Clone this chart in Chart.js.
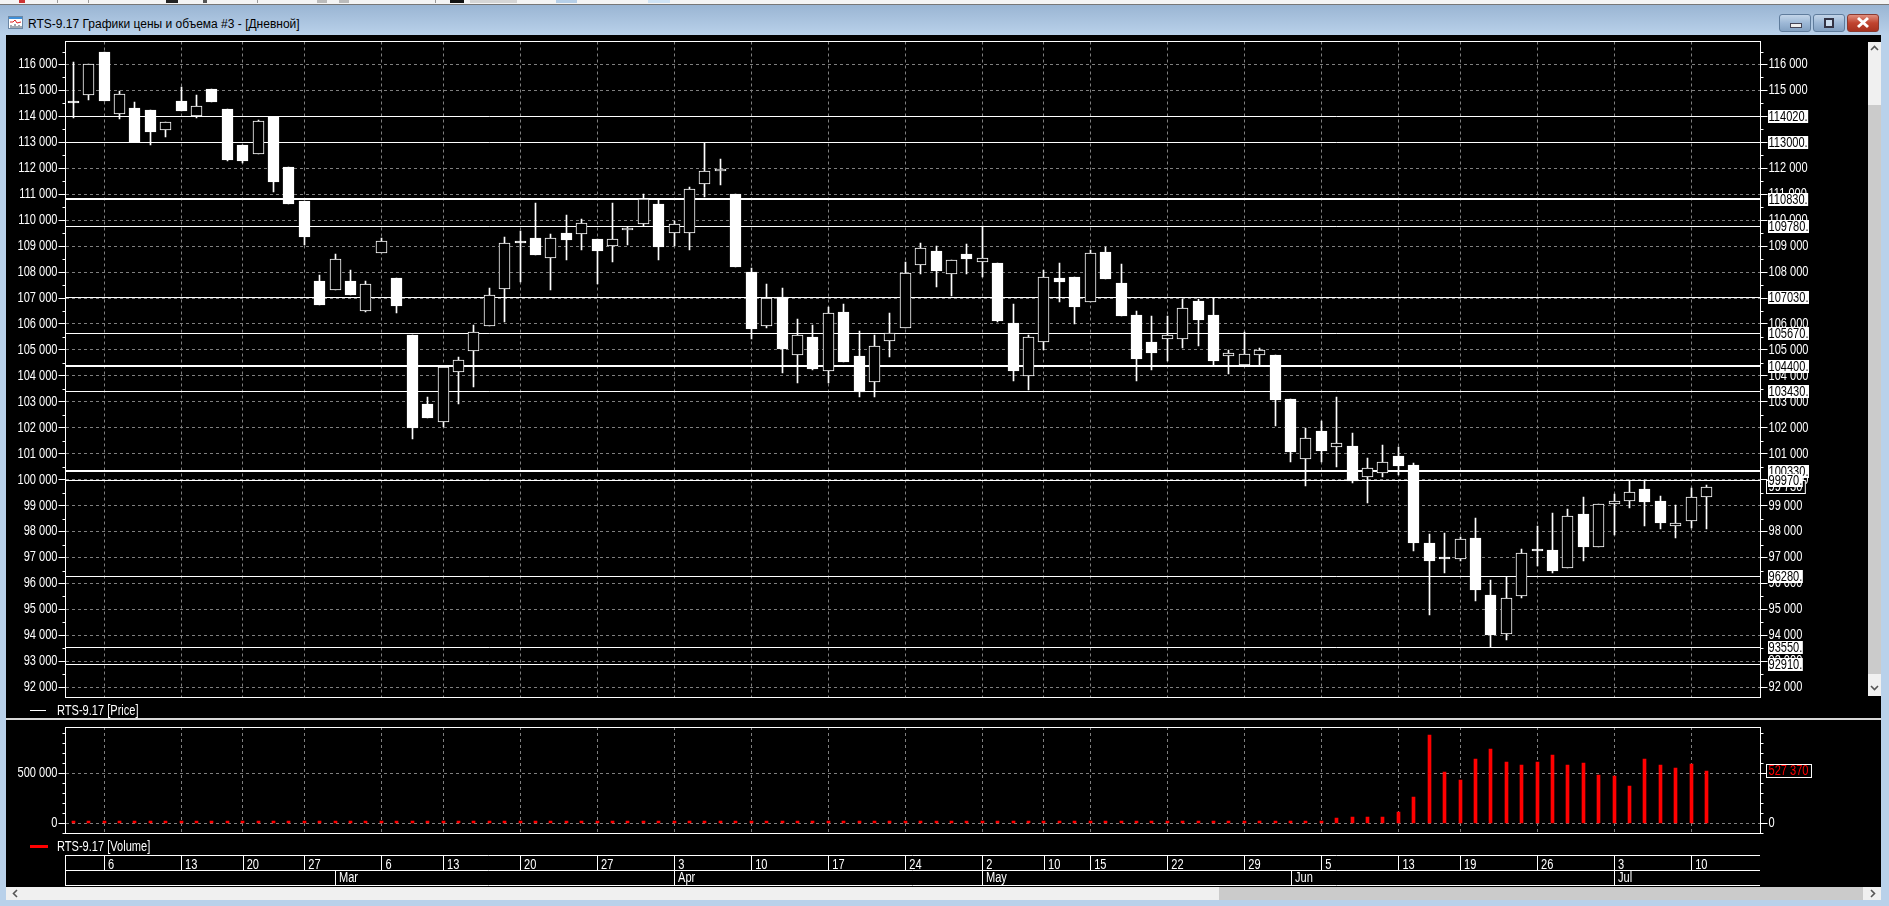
<!DOCTYPE html>
<html lang="ru">
<head>
<meta charset="UTF-8">
<title>RTS-9.17 Графики цены и объема #3 - [Дневной]</title>
<script src="https://cdn.jsdelivr.net/npm/chart.js"></script>
<style>
    html, body { margin: 0; padding: 0; width: 1889px; height: 906px; overflow: hidden; background: #b9d1ea; }
    div, canvas, svg { position: absolute; }
    #toolbar { left: 0; top: 0; width: 1889px; height: 4px; background: #f4f4f4; border-bottom: 1px solid #777; }
    #toolbar div { top: 0; height: 3px; }
    #titlebar { left: 0; top: 5px; width: 1889px; height: 30px; background: linear-gradient(#9ab5d3, #b9d1ea); }
    #title { left: 28px; top: 16px; font: 12px "Liberation Sans", sans-serif; line-height: 16px; color: #000; white-space: nowrap; }
    #icon { left: 8px; top: 16px; }
    .winbtn { top: 14px; height: 18px; border: 1px solid #5f7c9c; border-radius: 3px; box-sizing: border-box; background: linear-gradient(#c3d5e9, #9db8d6 50%, #83a1c2); }
    #screen { left: 6px; top: 35px; width: 1875px; height: 852px; background: #000; }
    #sep { left: 6px; top: 718px; width: 1875px; height: 2px; background: #d9d9d9; }
    #vbar { left: 1868px; top: 42px; width: 13px; height: 654px; background: #cbcbcb; }
    #vbar .lite { left: 0; top: 0; width: 13px; height: 63px; background: #f0f0f0; }
    #vbar .end { left: 0; bottom: 0; width: 13px; height: 22px; background: #f0f0f0; }
    #hbar { left: 6px; top: 887px; width: 1875px; height: 13px; background: #f0f0f0; }
    #hbar .thumb { left: 1213px; top: 0; width: 644px; height: 13px; background: #cbcbcb; }
    .legend { left: 57px; font: 14px "Liberation Sans", sans-serif; line-height: 16px; color: #fff; white-space: nowrap; transform: scaleX(0.79); transform-origin: left center; }
    .legendline { left: 30px; }
    #price { left: 0; top: 35px; }
    #volume { left: 0; top: 720px; }
</style>
</head>
<body>
<div id="toolbar">
    <div style="left:19px;width:6px;background:#c33"></div>
    <div style="left:57px;width:1px;background:#999"></div>
    <div style="left:88px;width:1px;background:#999"></div>
    <div style="left:166px;width:12px;background:#222"></div>
    <div style="left:203px;width:4px;background:#555"></div>
    <div style="left:257px;width:1px;background:#999"></div>
    <div style="left:317px;width:10px;background:#bbb"></div>
    <div style="left:339px;width:10px;background:#bbb"></div>
    <div style="left:435px;width:1px;background:#999"></div>
    <div style="left:450px;width:14px;background:#111"></div>
    <div style="left:470px;width:47px;background:#d5d5d5"></div>
    <div style="left:556px;width:21px;background:#b6cfe8"></div>
    <div style="left:648px;width:22px;background:#cfe3f5"></div>
</div>
<div id="titlebar"></div>
<svg id="icon" width="15" height="13">
    <rect x="0.5" y="0.5" width="14" height="12" fill="#fff" stroke="#6b87a5"/>
    <rect x="1" y="1" width="13" height="2" fill="#3f8fd8"/>
    <path d="M2 6 L5 6 L7 4 L9 7 L13 6" fill="none" stroke="#d22"/>
    <path d="M3 12 V9 M5 12 V10 M7 12 V8 M9 12 V10 M11 12 V9 M13 12 V10" stroke="#456"/>
</svg>
<div id="title">RTS-9.17 Графики цены и объема #3 - [Дневной]</div>
<div class="winbtn" style="left:1779px;width:32px"><div style="left:10px;top:8px;width:10px;height:3px;background:#eee;border:1px solid #445"></div></div>
<div class="winbtn" style="left:1813px;width:32px"><div style="left:10px;top:3px;width:6px;height:6px;border:2px solid #334;background:#cde"></div></div>
<div class="winbtn" style="left:1847px;width:32px;border-color:#8a3a30;background:linear-gradient(#e08f7e,#c0442f 50%,#a8321f)">
    <svg width="30" height="16" style="left:0;top:0"><path d="M10 3 L20 12 M20 3 L10 12" stroke="#fff" stroke-width="3"/></svg>
</div>
<div id="screen"></div>
<div id="sep"></div>
<div id="vbar">
    <div class="lite"><svg width="13" height="14"><path d="M3 8 L6.5 4.5 L10 8" fill="none" stroke="#555" stroke-width="1.6"/></svg></div>
    <div class="end"><svg width="13" height="22"><path d="M3 12 L6.5 15.5 L10 12" fill="none" stroke="#555" stroke-width="1.6"/></svg></div>
</div>
<div id="hbar">
    <div class="thumb"></div>
    <svg width="13" height="13" style="left:3px;top:0"><path d="M8 3 L4.5 6.5 L8 10" fill="none" stroke="#555" stroke-width="1.6"/></svg>
    <svg width="13" height="13" style="left:1860px;top:0"><path d="M5 3 L8.5 6.5 L5 10" fill="none" stroke="#555" stroke-width="1.6"/></svg>
</div>
<canvas id="price" width="1868" height="683"></canvas>
<canvas id="volume" width="1868" height="167"></canvas>
<div class="legendline" style="top:710px;width:16px;height:1px;background:#fff"></div>
<div class="legend" style="top:702px">RTS-9.17 [Price]</div>
<div class="legendline" style="top:845px;width:18px;height:3px;background:#f00"></div>
<div class="legend" style="top:838px">RTS-9.17 [Volume]</div>
<script>
    const dates = [
        '2017-02-02','2017-02-03','2017-02-06','2017-02-07','2017-02-08','2017-02-09','2017-02-10',
        '2017-02-13','2017-02-14','2017-02-15','2017-02-16','2017-02-20','2017-02-21','2017-02-22','2017-02-24',
        '2017-02-27','2017-02-28','2017-03-01','2017-03-02','2017-03-03','2017-03-06','2017-03-07','2017-03-09','2017-03-10',
        '2017-03-13','2017-03-14','2017-03-15','2017-03-16','2017-03-17','2017-03-20','2017-03-21','2017-03-22','2017-03-23','2017-03-24',
        '2017-03-27','2017-03-28','2017-03-29','2017-03-30','2017-03-31','2017-04-03','2017-04-04','2017-04-05','2017-04-06','2017-04-07',
        '2017-04-10','2017-04-11','2017-04-12','2017-04-13','2017-04-14','2017-04-17','2017-04-18','2017-04-19','2017-04-20','2017-04-21',
        '2017-04-24','2017-04-25','2017-04-26','2017-04-27','2017-04-28','2017-05-02','2017-05-03','2017-05-04','2017-05-05',
        '2017-05-10','2017-05-11','2017-05-12','2017-05-15','2017-05-16','2017-05-17','2017-05-18','2017-05-19',
        '2017-05-22','2017-05-23','2017-05-24','2017-05-25','2017-05-26','2017-05-29','2017-05-30','2017-05-31','2017-06-01','2017-06-02',
        '2017-06-05','2017-06-06','2017-06-07','2017-06-08','2017-06-09','2017-06-13','2017-06-14','2017-06-15','2017-06-16',
        '2017-06-19','2017-06-20','2017-06-21','2017-06-22','2017-06-23','2017-06-26','2017-06-27','2017-06-28','2017-06-29','2017-06-30',
        '2017-07-03','2017-07-04','2017-07-05','2017-07-06','2017-07-07','2017-07-10','2017-07-11','2017-07-12','2017-07-13','2017-07-14'
    ];
    const weekTicks = [
        '2017-02-06','2017-02-13','2017-02-20','2017-02-27','2017-03-06','2017-03-13','2017-03-20','2017-03-27',
        '2017-04-03','2017-04-10','2017-04-17','2017-04-24','2017-05-02','2017-05-10','2017-05-15','2017-05-22','2017-05-29',
        '2017-06-05','2017-06-13','2017-06-19','2017-06-26','2017-07-03','2017-07-10'
    ];
    const monthStarts = ['2017-03-01','2017-04-03','2017-05-02','2017-06-01','2017-07-03'];
    const monthNames = ['Mar','Apr','May','Jun','Jul'];

    const priceTicks = [
        116000,115000,114000,113000,112000,111000,110000,109000,108000,107000,106000,105000,104000,
        103000,102000,101000,100000,99000,98000,97000,96000,95000,94000,93000,92000
    ];
    const volumeTicks = [500000, 0];

    const opens = [
        114500,114830,116470,114100,114310,114230,113490,114590,114025,115040,114270,112900,112540,113990,112040,110730,
        107650,107310,107650,106490,108750,107770,105590,102900,102220,104140,104950,105910,107330,109130,109320,108560,
        109510,109450,109280,108990,109615,109870,110630,109490,109490,111385,111885,111010,108000,105910,107025,104795,
        105500,104180,106475,104770,103755,105335,105830,108255,108820,107910,108700,108370,108360,106045,103980,105290,
        107780,107820,106830,108780,107585,106355,105315,105440,105405,106895,106355,104750,104430,104790,104815,103120,
        100780,101885,101245,101310,100100,100255,100900,100550,97550,96950,96950,97745,95550,94065,95525,97245,
        97280,96600,98665,97410,99065,99180,99655,99165,98220,98410,99335
    ];
    const closes = [
        114500,116000,114590,114850,113000,113410,113770,114220,114385,114565,112335,112295,113810,111490,110640,109370,
        106750,108490,107100,107560,109190,106680,101975,102360,104350,104615,105690,107115,109115,109130,108670,109310,
        109240,109880,108830,109270,109690,110810,108950,109850,111190,111885,111990,108180,105795,107000,105025,105575,
        104255,106420,104525,103370,105155,105655,107960,108920,108060,108460,108510,108535,106125,104200,105495,107805,
        107625,106660,108730,107740,106315,104670,104890,105570,106610,106160,104585,104880,104840,104995,103080,101080,
        101605,101115,101410,99960,100450,100690,100525,97550,96860,96950,97730,95745,94010,95460,97190,97245,
        96475,98615,97395,99075,99180,99540,99130,98320,98345,99345,99730
    ];
    const highs = [
        116080,116000,116470,114975,114540,114230,113770,115115,114810,115040,114270,112900,113850,113990,112040,110730,
        107900,108690,108090,107650,109320,107770,105590,103200,104350,104730,105970,107400,109360,109590,110670,109475,
        110205,110050,109280,110670,109745,111000,110780,109975,111280,112990,112360,111010,108155,107550,107400,106205,
        105975,106665,106780,105745,105590,106435,108395,109125,109000,108460,109090,109770,108360,106780,105585,108090,
        108360,107820,108860,108985,108320,106510,106315,106290,106970,106970,107020,105005,105690,105085,104815,103120,
        101980,102270,103195,101810,100820,101320,101245,100640,97900,97935,97780,98510,96130,96255,97320,98205,
        98705,98860,99320,99075,99435,99975,99975,99360,99010,99665,99780
    ];
    const lows = [
        113925,114640,114590,113910,113000,112880,113220,114220,113950,114565,112295,112190,112540,111090,110640,109050,
        106730,107310,107100,106450,108750,106410,101550,102360,102030,102900,103560,105910,106090,107615,108670,107320,
        108450,108860,107550,108370,109025,109770,108450,109000,108870,110900,111360,108180,105435,105860,104130,103745,
        104220,103720,104525,103170,103205,104745,105830,107910,107430,107085,107935,107820,106060,103810,103450,105005,
        106830,106000,106830,107740,106315,103810,104235,104585,105085,105160,104430,104080,104430,104430,102080,100670,
        99745,100680,100475,99860,99100,100100,100170,97245,94780,96410,96860,95320,93550,93830,95435,96665,
        96400,96600,96860,97410,97885,98900,98205,98090,97745,98155,98090
    ];
    const volumes = [
        2000,2000,2000,2000,2000,2000,2000,2000,2000,2000,2000,2000,2000,2000,2000,2000,
        2000,2000,2000,2000,2000,2000,2000,2000,2000,2000,2000,2000,2000,2000,2000,2000,
        2000,2000,2000,2000,2000,2000,2000,2000,2000,2000,2000,2000,2000,2000,2000,2000,
        2000,2000,2000,2000,2000,2000,2000,2000,2000,2000,2000,2000,2000,2000,2000,2000,
        2000,2000,2000,2000,2000,2000,2000,2000,2000,2000,3000,3000,5000,10000,20000,20000,
        20000,27000,50000,60000,60000,60000,117000,260000,880000,510000,437000,640000,740000,617000,580000,610000,
        680000,580000,600000,480000,477000,377000,647000,580000,557000,597000,527370
    ];
    // horizontal levels drawn on the price panel
    const levels = [114020,113000,110830,109780,107030,105670,104400,103430,100330,99970,96280,93550,92910];
    const thickLevels = [110830,104400,100330];
    const lastPrice = 99730;
    const lastVolume = 527370;

    const FONT = '"Liberation Sans", sans-serif';
    const SQUEEZE = 0.79;
    const GRID = '#7f7f7f';

    function spaced(v) {
        return String(v).replace(/\B(?=(\d{3})+$)/g, ' ');
    }

    // no narrow bitmap font here, so squeeze all canvas text sideways
    const narrowTextPlugin = {
        id: 'narrowText',
        beforeInit(chart) {
            const ctx = chart.ctx;
            const fillText = ctx.fillText.bind(ctx);
            ctx.fillText = (text, x, y) => {
                ctx.save();
                ctx.translate(x, y);
                ctx.scale(SQUEEZE, 1);
                fillText(text, 0, 0);
                ctx.restore();
            };
        }
    };

    // the terminal draws on whole pixels, so snap the elements Chart.js has placed
    const snapPlugin = {
        id: 'snap',
        afterDatasetsUpdate(chart) {
            chart.data.datasets.forEach((ds, i) => {
                chart.getDatasetMeta(i).data.forEach(el => {
                    if (ds.type === 'line') {
                        el.y = Math.round(el.y) + (ds.borderWidth === 1 ? 0.5 : 0);
                    } else {
                        el.x = Math.floor(el.x) + 0.5;
                        el.y = Math.round(el.y);
                        el.base = Math.round(el.base);
                    }
                });
            });
        }
    };

    const framePlugin = {
        id: 'frame',
        afterDatasetsDraw(chart, args, opts) {
            const { ctx, chartArea: a } = chart;
            const y = chart.scales.y;
            ctx.save();
            ctx.strokeStyle = '#fff';
            ctx.lineWidth = 1;
            ctx.strokeRect(Math.floor(a.left) + 0.5, Math.floor(a.top) + 0.5,
                Math.floor(a.right) - Math.floor(a.left), Math.floor(a.bottom) - Math.floor(a.top));
            // short minor ticks on both sides
            ctx.beginPath();
            for (let v = Math.ceil(y.min / opts.minor) * opts.minor; v <= y.max; v += opts.minor) {
                if (v % opts.major === 0) continue;
                const py = Math.round(y.getPixelForValue(v)) + 0.5;
                ctx.moveTo(a.left - 3, py);
                ctx.lineTo(a.left, py);
                ctx.moveTo(a.right, py);
                ctx.lineTo(a.right + 3, py);
            }
            ctx.stroke();
            ctx.restore();
        }
    };

    function tagBox(ctx, text, x, cy, w, h, fill, stroke, color) {
        ctx.fillStyle = fill;
        ctx.fillRect(x, cy - h / 2, w, h);
        if (stroke) {
            ctx.strokeStyle = stroke;
            ctx.lineWidth = 1;
            ctx.strokeRect(x + 0.5, cy - h / 2 + 0.5, w - 1, h - 1);
        }
        ctx.fillStyle = color;
        ctx.textBaseline = 'middle';
        ctx.textAlign = 'left';
        ctx.fillText(text, x + (stroke ? 2.5 : 0.5), cy + 0.5);
    }

    const priceTagPlugin = {
        id: 'priceTags',
        afterDraw(chart) {
            const { ctx } = chart;
            const y = chart.scales.y;
            const x0 = Math.round(chart.chartArea.right) + 7;
            ctx.save();
            ctx.font = '14px ' + FONT;
            const lastY = Math.round(y.getPixelForValue(lastPrice));
            const lastText = spaced(lastPrice);
            tagBox(ctx, lastText, x0 - 2, lastY, ctx.measureText(lastText).width * SQUEEZE + 6, 14, '#000', '#fff', '#fff');
            levels.forEach(lv => {
                const text = lv + '.';
                tagBox(ctx, text, x0, Math.round(y.getPixelForValue(lv)) + 0.5, ctx.measureText(text).width * SQUEEZE + 1, 13, '#fff', null, '#000');
            });
            ctx.restore();
        }
    };

    const volumeTagPlugin = {
        id: 'volumeTag',
        afterDraw(chart) {
            const { ctx, chartArea: a } = chart;
            const y = chart.scales.y;
            const x = chart.scales.x;
            ctx.save();
            ctx.font = '14px ' + FONT;
            const text = spaced(lastVolume);
            tagBox(ctx, text, Math.round(a.right) + 5, Math.round(y.getPixelForValue(lastVolume)), ctx.measureText(text).width * SQUEEZE + 6, 14, '#000', '#fff', '#f00');

            // date band under the volume panel
            const rows = [135, 150, 165];
            ctx.strokeStyle = '#fff';
            ctx.lineWidth = 1;
            ctx.beginPath();
            rows.forEach(r => {
                ctx.moveTo(Math.floor(a.left), r + 0.5);
                ctx.lineTo(Math.floor(a.right), r + 0.5);
            });
            ctx.moveTo(Math.floor(a.left) + 0.5, rows[0]);
            ctx.lineTo(Math.floor(a.left) + 0.5, rows[2] + 1);
            weekTicks.forEach(d => {
                const px = Math.round(x.getPixelForValue(dates.indexOf(d))) + 0.5;
                ctx.moveTo(px, rows[0]);
                ctx.lineTo(px, rows[1]);
            });
            monthStarts.forEach(d => {
                const px = Math.round(x.getPixelForValue(dates.indexOf(d))) + 0.5;
                ctx.moveTo(px, rows[1]);
                ctx.lineTo(px, rows[2]);
            });
            ctx.stroke();
            ctx.fillStyle = '#fff';
            ctx.textAlign = 'left';
            ctx.textBaseline = 'middle';
            monthStarts.forEach((d, i) => {
                ctx.fillText(monthNames[i], Math.round(x.getPixelForValue(dates.indexOf(d))) + 4, (rows[1] + rows[2]) / 2 + 1);
            });
            ctx.restore();
        }
    };

    function xAxis(height, labelled) {
        return {
            type: 'category',
            offset: true,
            grid: { color: GRID, offset: false, drawTicks: false },
            border: { display: false, dash: [3, 3] },
            afterBuildTicks: scale => {
                scale.ticks = weekTicks.map(d => ({ value: dates.indexOf(d) }));
            },
            afterFit: scale => {
                scale.height = height;
                scale.paddingLeft = 0;
                scale.paddingRight = 0;
            },
            ticks: {
                display: labelled,
                autoSkip: false,
                maxRotation: 0,
                align: 'start',
                labelOffset: 4,
                padding: 23,
                color: '#fff',
                font: { family: FONT, size: 14 },
                callback: function (v) {
                    return String(Number(this.getLabelForValue(v).slice(8)));
                }
            }
        };
    }

    function yAxis(position, min, max, tickValues, width, showGrid) {
        return {
            type: 'linear',
            position: position,
            min: min,
            max: max,
            grid: { display: true, drawOnChartArea: showGrid, color: GRID, tickColor: '#fff', tickLength: 7 },
            border: { display: true, color: '#fff', dash: [3, 3] },
            afterBuildTicks: scale => {
                scale.ticks = tickValues.map(v => ({ value: v }));
            },
            afterFit: scale => {
                scale.width = width;
                // labels may hang over the plot, keep the plot where the padding puts it
                scale.paddingTop = 0;
                scale.paddingBottom = 0;
            },
            ticks: {
                autoSkip: false,
                padding: 1,
                color: '#fff',
                font: { family: FONT, size: 14 },
                callback: v => spaced(v)
            }
        };
    }

    const levelDatasets = levels.map(lv => ({
        type: 'line',
        xAxisID: 'xLevel',
        yAxisID: 'y',
        data: [{ x: 0, y: lv }, { x: 1, y: lv }],
        borderColor: '#fff',
        borderWidth: thickLevels.includes(lv) ? 2 : 1,
        pointRadius: 0,
        order: 3
    }));

    new Chart(document.getElementById('price'), {
        type: 'bar',
        data: {
            labels: dates,
            datasets: [
                {
                    label: 'RTS-9.17 [Price]',
                    data: opens.map((o, i) => [o, closes[i]]),
                    backgroundColor: ctx => closes[ctx.dataIndex] > opens[ctx.dataIndex] ? '#000' : '#fff',
                    borderColor: '#fff',
                    borderWidth: 1,
                    borderSkipped: false,
                    barThickness: 11,
                    minBarLength: 2,
                    grouped: false,
                    order: 1
                },
                {
                    label: 'high-low',
                    data: lows.map((l, i) => [l, highs[i]]),
                    backgroundColor: '#fff',
                    barThickness: 1,
                    grouped: false,
                    order: 2
                },
                ...levelDatasets
            ]
        },
        options: {
            responsive: false,
            animation: false,
            events: [],
            layout: { padding: { top: 6.5, bottom: 0 } },
            plugins: {
                legend: { display: false },
                tooltip: { enabled: false },
                frame: { minor: 500, major: 1000 }
            },
            scales: {
                x: xAxis(20.5, false),
                xLevel: { type: 'linear', display: false, offset: false, min: 0, max: 1 },
                y: yAxis('left', 91607, 116886, priceTicks, 65.5, true),
                yRight: yAxis('right', 91607, 116886, priceTicks, 107.5, false)
            }
        },
        plugins: [narrowTextPlugin, snapPlugin, framePlugin, priceTagPlugin]
    });

    new Chart(document.getElementById('volume'), {
        type: 'bar',
        data: {
            labels: dates,
            datasets: [{
                label: 'RTS-9.17 [Volume]',
                data: volumes,
                backgroundColor: '#f00',
                barThickness: 3,
                minBarLength: 2,
                grouped: false
            }]
        },
        options: {
            responsive: false,
            animation: false,
            events: [],
            layout: { padding: { top: 7, bottom: 0 } },
            plugins: {
                legend: { display: false },
                tooltip: { enabled: false },
                frame: { minor: 100000, major: 500000 }
            },
            scales: {
                x: xAxis(53.7, true),
                y: yAxis('left', -100000, 963000, volumeTicks, 65.5, true),
                yRight: yAxis('right', -100000, 963000, volumeTicks, 107.5, false)
            }
        },
        plugins: [narrowTextPlugin, snapPlugin, framePlugin, volumeTagPlugin]
    });
</script>
</body>
</html>
